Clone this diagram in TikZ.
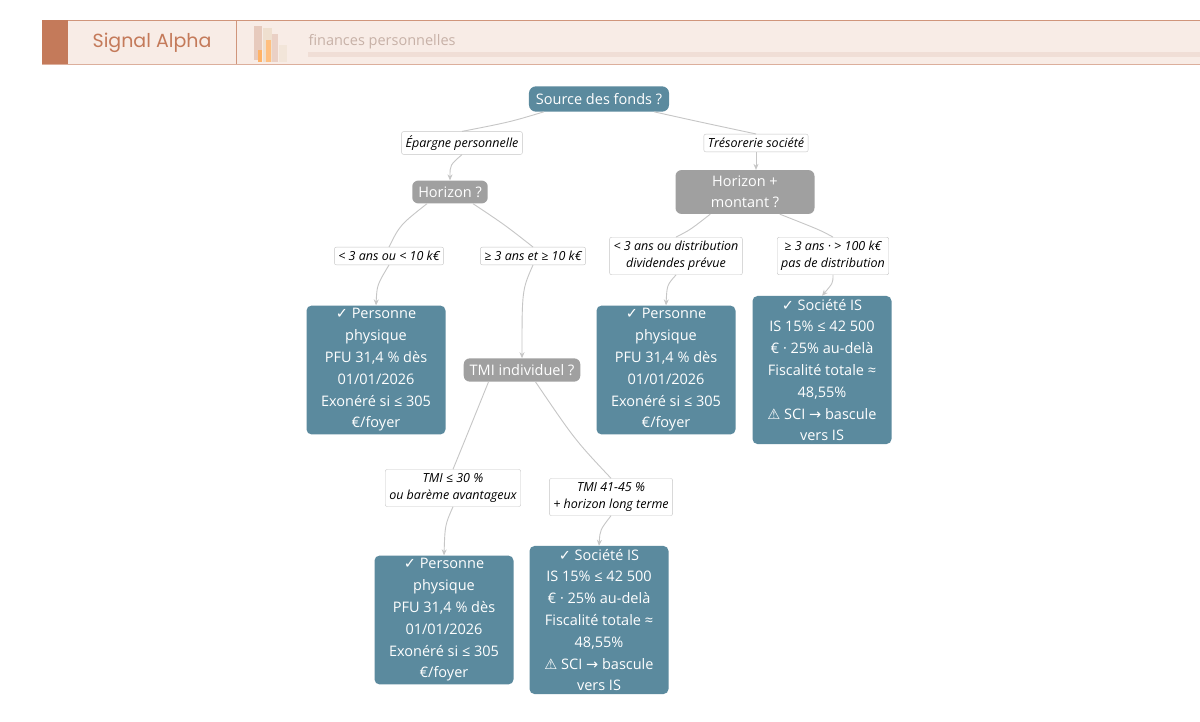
\documentclass[tikz,border=0pt]{standalone}
\usepackage{fontspec}
\setmainfont{Open Sans}
\newfontfamily\popf{Poppins}
\newfontfamily\djv{DejaVu Sans}
\newcommand{\ck}{{\djv ✓}}
\newcommand{\wn}{{\djv ⚠}}
\newcommand{\rarr}{{\djv →}}
\usetikzlibrary{arrows.meta}
\definecolor{teal}{HTML}{5B8A9E}
\definecolor{grayn}{HTML}{A0A0A0}
\definecolor{edgec}{HTML}{C6C6C6}
\definecolor{hdr}{HTML}{F8ECE6}
\definecolor{rust}{HTML}{C47A5A}
\begin{document}
\begin{tikzpicture}[x=1pt,y=-1pt,
  leaf/.style={fill=teal,rounded corners=5pt,text=white,align=center,font=\fontsize{14.5}{21.8}\selectfont,minimum width=139pt,inner sep=3pt},
  q/.style={fill=grayn,rounded corners=6pt,text=white,align=center,font=\fontsize{14.5}{21}\selectfont,inner sep=6pt},
  lab/.style={draw=edgec,fill=white,rounded corners=2pt,align=center,font=\itshape\fontsize{12.5}{17}\selectfont,inner sep=4pt},
  ln/.style={draw=edgec,line width=0.9pt},
  ar/.style={ln,-{Stealth[length=6pt,width=5pt]}}]
\useasboundingbox (0,0) rectangle (1200,721);
\fill[white] (0,0) rectangle (1200,721);
% header
\fill[hdr] (42,20) rectangle (1200,64);
\draw[rust!80,line width=1pt] (42,20) -- (1200,20);
\draw[rust!60,line width=0.8pt] (42,64) -- (1200,64);
\fill[rust] (42,20) rectangle (68,64);
\draw[rust!80,line width=0.8pt] (236,20) -- (236,64);
\node[font=\popf\fontsize{19}{20}\selectfont,text=rust] (title) at (152,43) {Signal Alpha};
\fill[rust!40] (254,26) rectangle (262,60);
\fill[brown!25] (263,28) rectangle (272,62);
\fill[orange!50] (266,40) rectangle (271,62);
\fill[rust!35] (272,34) rectangle (278,62);
\fill[orange!60] (258,50) rectangle (262,62);
\fill[brown!20] (279,45) rectangle (287,62);
\node[anchor=west,font=\fontsize{14.5}{15}\selectfont,text=rust!50!gray!60] (sub) at (305,42) {finances personnelles};
\fill[rust!25] (308,52) rectangle (1200,57);
% nodes
\node[leaf,minimum width=0pt,inner sep=7pt,rounded corners=7pt] (src) at (599,99) {Source des fonds ?};
\node[lab] (ep) at (462,143) {Épargne personnelle};
\node[lab] (tr) at (756,143) {Trésorerie société};
\node[q] (h1) at (450,192) {Horizon ?};
\node[q,minimum width=139pt] (h2) at (745,192) {Horizon +\\montant ?};
\node[lab] (l1) at (389,256) {< 3 ans ou < 10 k€};
\node[lab] (l2) at (533,256) {≥ 3 ans et ≥ 10 k€};
\node[lab] (l3) at (676,256) {< 3 ans ou distribution\\dividendes prévue};
\node[lab] (l4) at (833,256) {≥ 3 ans · > 100 k€\\pas de distribution};
\node[leaf] (p1) at (376,370) {\ck{} Personne\\physique\\PFU 31,4 \% dès\\01/01/2026\\Exonéré si ≤ 305\\€/foyer};
\node[q] (tmi) at (522,370) {TMI individuel ?};
\node[leaf] (p2) at (666,370) {\ck{} Personne\\physique\\PFU 31,4 \% dès\\01/01/2026\\Exonéré si ≤ 305\\€/foyer};
\node[leaf] (s1) at (822,370) {\ck{} Société IS\\IS 15\% ≤ 42 500\\€ · 25\% au-delà\\Fiscalité totale ≈\\48,55\%\\\wn{} SCI \rarr{} bascule\\vers IS};
\node[lab] (l5) at (453,488) {TMI ≤ 30 \%\\ou barème avantageux};
\node[lab] (l6) at (611,497) {TMI 41-45 \%\\+ horizon long terme};
\node[leaf] (p3) at (444,620) {\ck{} Personne\\physique\\PFU 31,4 \% dès\\01/01/2026\\Exonéré si ≤ 305\\€/foyer};
\node[leaf] (s2) at (599,620) {\ck{} Société IS\\IS 15\% ≤ 42 500\\€ · 25\% au-delà\\Fiscalité totale ≈\\48,55\%\\\wn{} SCI \rarr{} bascule\\vers IS};
% edges
\draw[ln] (src.south west)++(15,0) coordinate (c1) (c1) .. controls (510,122) .. (ep.north);
\draw[ln] (src.south east)++(-15,0) coordinate (c2) (c2) .. controls (700,122) .. (tr.north);
\draw[ar] (ep.south) .. controls (450,165) .. (h1.north);
\draw[ar] (tr.south) -- (h2.north -| tr.south);
\draw[ln] (h1.south west)++(15,0) coordinate (c3) (c3) .. controls (400,225) .. (l1.north);
\draw[ln] (h1.south east)++(-15,0) coordinate (c4) (c4) .. controls (505,225) .. (l2.north);
\draw[ln] (h2.south west)++(35,0) coordinate (c5) (c5) .. controls (690,230) .. (l3.north);
\draw[ln] (h2.south east)++(-35,0) coordinate (c6) (c6) .. controls (820,230) .. (l4.north);
\draw[ar] (l1.south) .. controls (377,285) .. (p1.north);
\draw[ar] (l2.south) .. controls (522,290) .. (tmi.north);
\draw[ar] (l3.south) .. controls (667,285) .. (p2.north);
\draw[ar] (l4.south) .. controls (833,283) .. (s1.north);
\draw[ln] (tmi.south west)++(25,0) coordinate (c7) (c7) .. controls (465,440) .. (l5.north);
\draw[ln] (tmi.south east)++(-45,0) coordinate (c8) (c8) .. controls (575,440) .. (l6.north);
\draw[ar] (l5.south) .. controls (445,525) .. (p3.north);
\draw[ar] (l6.south) .. controls (600,530) .. (s2.north);
\end{tikzpicture}
\end{document}
